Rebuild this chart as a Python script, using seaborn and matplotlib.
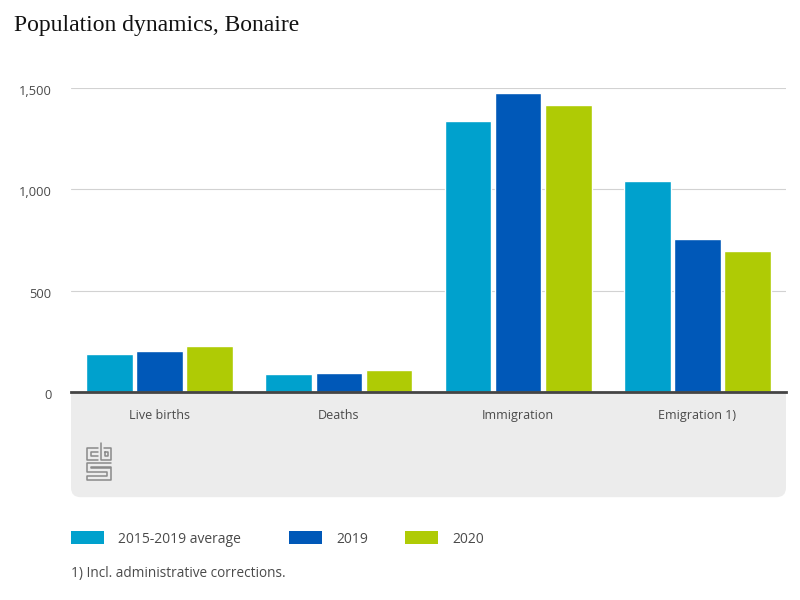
"""Population dynamics on Bonaire, grouped bars."""

import matplotlib.pyplot as plt
import matplotlib.transforms as mtrans
import pandas as pd
import seaborn as sns
from matplotlib.lines import Line2D
from matplotlib.patches import FancyBboxPatch, Rectangle
from matplotlib.ticker import FuncFormatter

categories = ["Live births", "Deaths", "Immigration", "Emigration 1)"]
series_names = ["2015-2019 average", "2019", "2020"]
avg_values = [188, 89, 1335, 1042]
y2019_values = [201, 96, 1473, 757]
y2020_values = [228, 110, 1418, 697]
colors = ["#00a1cd", "#0058b8", "#afcb05"]

W, H = 800, 600
TEXT = "#4a4a4a"


def fx(x):
    return x / W


def fy(y):
    return 1 - y / H


df = pd.DataFrame({
    "category": categories * 3,
    "series": [s for s in series_names for _ in categories],
    "value": avg_values + y2019_values + y2020_values,
})

sns.set_theme(style="white")
plt.rcParams["font.family"] = ["Open Sans", "DejaVu Sans"]

fig = plt.figure(figsize=(W / 100, H / 100), dpi=100)
ax = fig.add_axes([fx(71), fy(392), fx(786 - 71), (392 - 88) / H])

sns.barplot(data=df, x="category", y="value", hue="series", hue_order=series_names,
            palette=colors, width=0.84, gap=0.07, saturation=1, legend=False, ax=ax)

ax.set_ylim(0, 1500)
ax.set_xlim(-0.494, 3.494)
ax.set_xlabel("")
ax.set_ylabel("")
ax.set_yticks([0, 500, 1000, 1500])
ax.yaxis.set_major_formatter(FuncFormatter(lambda v, _: f"{int(v):,}"))
ax.grid(axis="y", color="#d2d2d2", lw=0.8)
ax.set_axisbelow(True)
sns.despine(ax=ax, left=True, top=True, right=True)
ax.spines["bottom"].set_color("#444444")
ax.spines["bottom"].set_linewidth(2)
ax.spines["bottom"].set_zorder(5)
ax.tick_params(axis="x", length=0, pad=12, labelsize=9, labelcolor=TEXT)
ax.tick_params(axis="y", length=0, pad=14, labelsize=9.3, labelcolor=TEXT)

# y labels sit a little below their gridlines
shift = mtrans.ScaledTranslation(0, -2 / 100, fig.dpi_scale_trans)
for label in ax.get_yticklabels():
    label.set_transform(label.get_transform() + shift)

# grey band under the axis
panel = FancyBboxPatch((fx(71) + 0.01, fy(497) + 0.013), fx(715) - 0.02, fy(370) - fy(497) - 0.026,
                       boxstyle="round,pad=0.01,rounding_size=0.012", transform=fig.transFigure,
                       fc="#ececec", ec="none", zorder=0, mutation_aspect=W / H)
fig.add_artist(panel)
panel.set_zorder(-1)
ax.set_zorder(2)

# cbs logo
logo_paths = [
    [(98, 448), (87, 448), (87, 460), (98, 460)],
    [(98, 452), (91, 452), (91, 456), (98, 456)],
    [(101, 443), (101, 460), (111, 460), (111, 448), (104, 448)],
    [(105, 452), (108, 452), (108, 456), (105, 456), (105, 452)],
    [(111, 463), (87, 463), (87, 472), (107, 472), (107, 476), (87, 476), (87, 480), (111, 480),
     (111, 468), (91, 468), (91, 467), (111, 467)],
]
for path in logo_paths:
    fig.add_artist(Line2D([fx(p[0]) for p in path], [fy(p[1]) for p in path],
                          color="#8a8a8a", lw=1.1, transform=fig.transFigure, zorder=3))

fig.text(fx(14), fy(31), "Population dynamics, Bonaire", family="Liberation Serif",
         fontsize=17, color="#111111", va="baseline")

# legend swatches are spaced unevenly in the original, so placed by hand
swatch_x = [71, 289, 405]
for x, name, color in zip(swatch_x, series_names, colors):
    fig.add_artist(Rectangle((fx(x), fy(544)), fx(33), fy(531) - fy(544),
                             transform=fig.transFigure, fc=color, ec="none"))
    fig.text(fx(x + 47), fy(543), name, fontsize=10, color=TEXT, va="baseline")

fig.text(fx(71), fy(577), "1) Incl. administrative corrections.", fontsize=9.8,
         color=TEXT, va="baseline")

fig.savefig("out.png", dpi=100)
